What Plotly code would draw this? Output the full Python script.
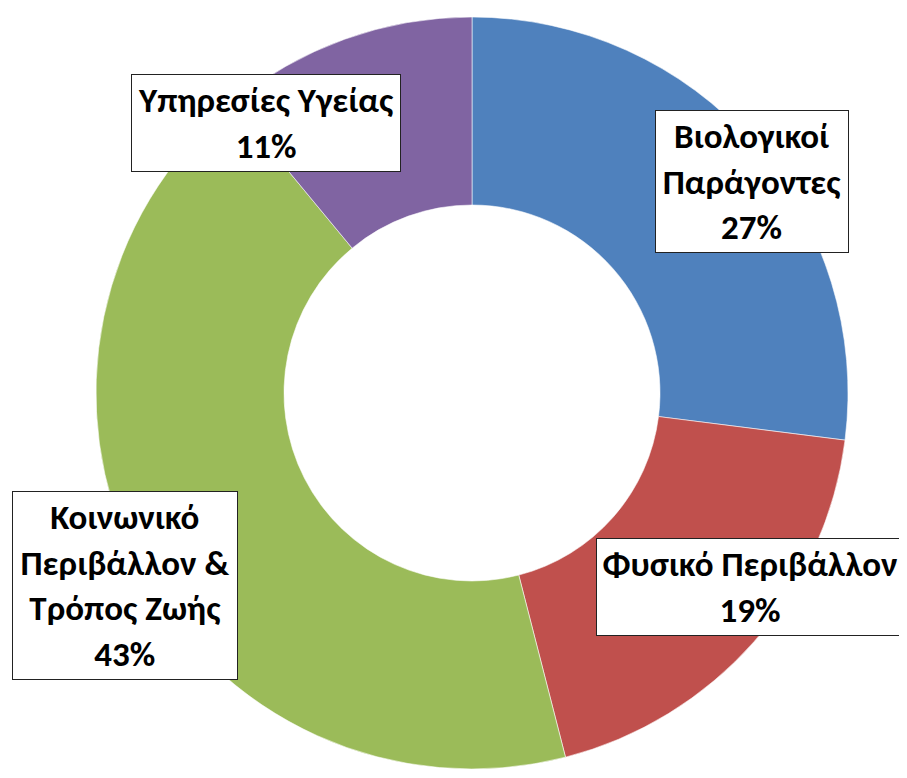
import plotly.graph_objects as go

# ---- data ----
categories = ["Βιολογικοί Παράγοντες", "Φυσικό Περιβάλλον",
              "Κοινωνικό Περιβάλλον & Τρόπος Ζωής", "Υπηρεσίες Υγείας"]
label_lines = ["Βιολογικοί<br>Παράγοντες", "Φυσικό Περιβάλλον",
               "Κοινωνικό<br>Περιβάλλον &<br>Τρόπος Ζωής", "Υπηρεσίες Υγείας"]
values = [27, 19, 43, 11]
colors = ["#4F81BD", "#C0504D", "#9BBB59", "#8064A2"]

OFF = 8  # page body margin offset
W, H = 907 - OFF, 778 - OFF

# pie centre (px from top-left of page) and radius
PCX, PCY, PR = 472, 393, 376
cx0, cy0 = PCX - OFF, PCY - OFF

fig = go.Figure(go.Pie(
    labels=categories,
    values=values,
    sort=False,
    direction="clockwise",
    rotation=0,
    hole=0.5,
    marker=dict(colors=colors, line=dict(color="rgba(255,255,255,0.7)", width=0.8)),
    textinfo="none",
    hoverinfo="label+percent",
    showlegend=False,
    domain=dict(x=[(cx0 - PR) / W, (cx0 + PR) / W],
                y=[(H - cy0 - PR) / H, (H - cy0 + PR) / H]),
))

# label boxes: (center x px, center y px, box width, box height) in page px
boxes = [(752, 181.5, 194, 143), (750, 587, 308, 98),
         (125, 585.5, 226, 189), (266, 123, 270, 98)]
total = sum(values)
font_family = "Carlito, 'Liberation Sans Narrow', 'Noto Sans', sans-serif"
for txt, v, (cx, cy, bw, bh) in zip(label_lines, values, boxes):
    fig.add_annotation(
        x=(cx - OFF) / W, y=1 - (cy - OFF) / H, xref="paper", yref="paper",
        xanchor="center", yanchor="middle",
        text=f"<b>{txt}<br>{round(v / total * 100)}%</b>",
        showarrow=False,
        font=dict(family=font_family, size=35, color="black"),
        bgcolor="white", bordercolor="#222222", borderwidth=1, borderpad=0,
        width=bw - 2, height=bh - 2, align="center",
    )

fig.update_layout(
    width=W, height=H,
    margin=dict(l=0, r=0, t=0, b=0),
    paper_bgcolor="white", plot_bgcolor="white",
)

fig.write_html("out.html")
